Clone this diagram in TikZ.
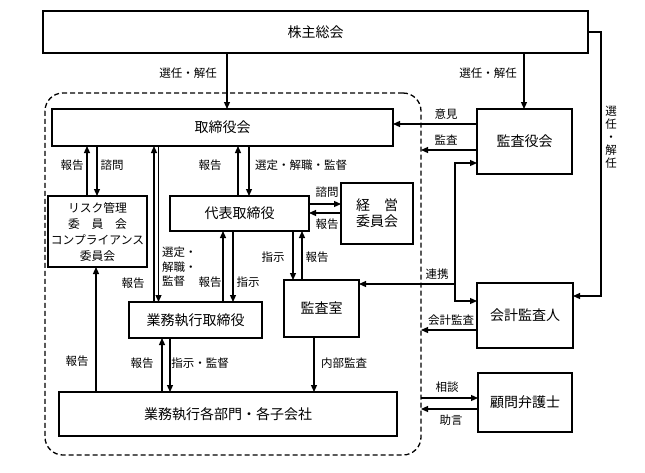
\documentclass[tikz,border=0pt]{standalone}
\usepackage{fontspec}
\setmainfont{Noto Sans CJK JP}
\usetikzlibrary{arrows.meta}
\begin{document}
\begin{tikzpicture}[x=1pt,y=-1pt,
  box/.style={draw, line width=1.4pt, inner sep=0pt, outer sep=0pt, align=center, font=\fontsize{14}{16}\selectfont},
  lab/.style={inner sep=0pt, font=\fontsize{11.5}{13}\selectfont},
  arr/.style={line width=1.2pt, -{Triangle[length=7pt,width=6pt]}},
  barr/.style={line width=1.2pt, {Triangle[length=7pt,width=6pt]}-{Triangle[length=7pt,width=6pt]}},
  plain/.style={line width=1.2pt},
  dashbox/.style={draw, line width=1.3pt, dash pattern=on 5pt off 3pt, rounded corners=18pt, inner sep=0pt, outer sep=0pt}
]
\useasboundingbox (0,0) rectangle (645,472);

% dashed group
\node[dashbox, minimum width=376pt, minimum height=362pt] (grp) at (233,274) {};

% boxes
\node[box, minimum width=545pt, minimum height=42pt] (kabu) at (315.5,32) {株主総会};
\node[box, minimum width=341pt, minimum height=37pt] (tori) at (222.5,127.5) {取締役会};
\node[box, minimum width=95pt, minimum height=65pt] (kansayaku) at (524.5,141.5) {監査役会};
\node[box, minimum width=99pt, minimum height=71pt, font=\fontsize{11.8}{16}\selectfont] (risk) at (97.5,231.5) {リスク管理\\委　員　会\\コンプライアンス\\委員会};
\node[box, minimum width=139pt, minimum height=35pt] (daihyo) at (239.5,213.5) {代表取締役};
\node[box, minimum width=72pt, minimum height=61pt] (keiei) at (377,213.5) {経　営\\委員会};
\node[box, minimum width=133pt, minimum height=36pt] (gyomu) at (195.5,320) {業務執行取締役};
\node[box, minimum width=75pt, minimum height=57pt] (kshitsu) at (321.5,308.5) {監査室};
\node[box, minimum width=96pt, minimum height=65pt] (kaikei) at (525,315.5) {会計監査人};
\node[box, minimum width=94pt, minimum height=59pt] (komon) at (525,402.5) {顧問弁護士};
\node[box, minimum width=338pt, minimum height=44pt] (bumon) at (228,414) {業務執行各部門・各子会社};

% shareholders
\draw[arr] (kabu.south -| 227,0) -- (tori.north -| 227,0);
\node[lab] (l1) at (188,73) {選任・解任};
\draw[arr] (kabu.south -| 524,0) -- (kansayaku.north -| 524,0);
\node[lab] (l2) at (488,73) {選任・解任};
\draw[arr] (kabu.east) -- (601,32) -- (601,296) -- (kaikei.east |- 0,296);
\node[lab, align=center, font=\fontsize{11.5}{13}\selectfont] (l3) at (611,137) {選\\任\\・\\解\\任};

% audit board
\draw[arr] (kansayaku.west |- 0,124) -- (tori.east |- 0,124);
\node[lab] (l4) at (446,114) {意見};
\draw[arr] (kansayaku.west |- 0,150) -- (grp.east |- 0,150);
\node[lab] (l5) at (446,140) {監査};
\draw[barr] (kansayaku.west |- 0,163) -- (455,163) -- (455,301) -- (kaikei.west |- 0,301);
\draw[arr] (455,284) -- (kshitsu.east |- 0,284);
\node[lab] (l6) at (437,274) {連携};
\draw[arr] (kaikei.west |- 0,330) -- (grp.east |- 0,330);
\node[lab] (l7) at (451,320) {会計監査};
\draw[arr] (grp.east |- 0,398) -- (komon.west |- 0,398);
\node[lab] (l8) at (447,387) {相談};
\draw[arr] (komon.west |- 0,409) -- (grp.east |- 0,409);
\node[lab] (l9) at (451,420) {助言};

% risk committee
\draw[arr] (risk.north -| 87,0) -- (tori.south -| 87,0);
\draw[arr] (tori.south -| 97,0) -- (risk.north -| 97,0);
\node[lab] (l10) at (72,165) {報告};
\node[lab] (l11) at (112,165) {諮問};

% board <-> executive directors
\draw[arr] (gyomu.north -| 154,0) -- (tori.south -| 154,0);
\draw[arr] (tori.south -| 158.5,0) -- (gyomu.north -| 158.5,0);
\node[lab] (l12) at (133,283) {報告};
\node[lab, anchor=west, align=left, font=\fontsize{11.5}{14.5}\selectfont] (l13) at (162,267) {選定・\\解職・\\監督};

% board <-> representative director
\draw[arr] (daihyo.north -| 238,0) -- (tori.south -| 238,0);
\draw[arr] (tori.south -| 249,0) -- (daihyo.north -| 249,0);
\node[lab] (l14) at (210,165) {報告};
\node[lab] (l15) at (301,165) {選定・解職・監督};

% representative <-> management committee
\draw[arr] (daihyo.east |- 0,204) -- (keiei.west |- 0,204);
\draw[arr] (keiei.west |- 0,213) -- (daihyo.east |- 0,213);
\node[lab] (l16) at (327,192) {諮問};
\node[lab] (l17) at (327,224) {報告};

% representative <-> executive directors
\draw[arr] (gyomu.north -| 223,0) -- (daihyo.south -| 223,0);
\draw[arr] (daihyo.south -| 233,0) -- (gyomu.north -| 233,0);
\node[lab] (l18) at (210,282) {報告};
\node[lab] (l19) at (248,282) {指示};

% representative <-> audit office
\draw[arr] (daihyo.south -| 293,0) -- (kshitsu.north -| 293,0);
\draw[arr] (kshitsu.north -| 302,0) -- (daihyo.south -| 302,0);
\node[lab] (l20) at (273,257) {指示};
\node[lab] (l21) at (317,257) {報告};

% audit office -> departments
\draw[arr] (kshitsu.south -| 314,0) -- (bumon.north -| 314,0);
\node[lab] (l22) at (344,363) {内部監査};

% departments
\draw[arr] (bumon.north -| 96,0) -- (risk.south -| 96,0);
\node[lab] (l23) at (77,361) {報告};
\draw[arr] (bumon.north -| 162,0) -- (gyomu.south -| 162,0);
\draw[arr] (gyomu.south -| 170,0) -- (bumon.north -| 170,0);
\node[lab] (l24) at (142,363) {報告};
\node[lab] (l25) at (200,363) {指示・監督};
\end{tikzpicture}
\end{document}
